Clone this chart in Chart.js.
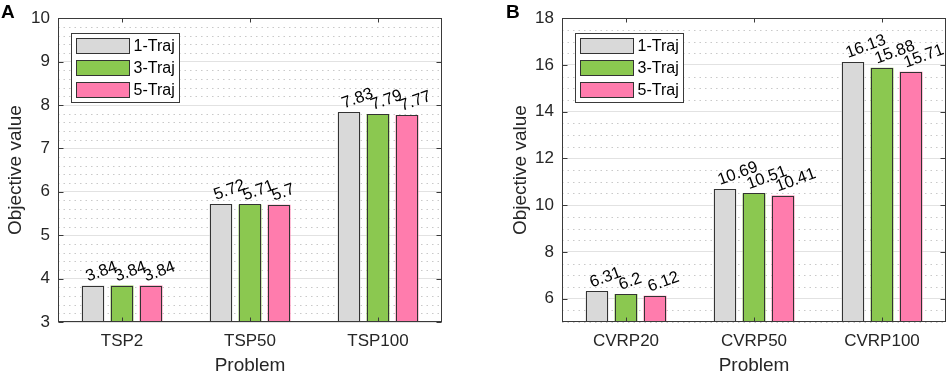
<!DOCTYPE html>
<html><head><meta charset="utf-8">
<script src="https://cdn.jsdelivr.net/npm/chart.js@4/dist/chart.umd.min.js"></script>
<style>
html,body{margin:0;padding:0;background:#fff;}
#wrap{position:relative;width:948px;height:373px;overflow:hidden;}
.pane{position:absolute;top:0;width:474px;height:373px;}
.letter{position:absolute;font:bold 19px 'Liberation Sans',Arial,sans-serif;color:#000;line-height:20px;}
</style></head><body>
<div id="wrap">
<div class="pane" style="left:0"><canvas id="cA"></canvas></div>
<div class="pane" style="left:474px"><canvas id="cB"></canvas></div>
<div class="letter" style="left:1px;top:2px">A</div>
<div class="letter" style="left:506px;top:2px">B</div>
</div>
<script>
const seriesNames = ['1-Traj', '3-Traj', '5-Traj'];
const seriesColors = ['#d9d9d9', '#8bc850', '#ff7cad'];

const tspCategories = ['TSP2', 'TSP50', 'TSP100'];
const tsp1Traj = [3.84, 5.72, 7.83];
const tsp3Traj = [3.84, 5.71, 7.79];
const tsp5Traj = [3.84, 5.70, 7.77];
const tspYTicks = [3, 4, 5, 6, 7, 8, 9, 10];

const cvrpCategories = ['CVRP20', 'CVRP50', 'CVRP100'];
const cvrp1Traj = [6.31, 10.69, 16.13];
const cvrp3Traj = [6.20, 10.51, 15.88];
const cvrp5Traj = [6.12, 10.41, 15.71];
const cvrpYTicks = [6, 8, 10, 12, 14, 16, 18];

const FONT = "'Liberation Sans', Arial, Helvetica, sans-serif";
const AXIS = '#3a3a3a';

const framePlugin = {
  id: 'frame',
  beforeDatasetsDraw(chart, args, o) {
    const {ctx, chartArea: a, scales: {y}} = chart;
    ctx.save();
    ctx.strokeStyle = '#c9c9c9';
    ctx.lineWidth = 1;
    ctx.setLineDash([1.5, 4]);
    const n = Math.round((o.ymax - o.ymin) / o.minor);
    for (let i = 0; i <= n; i++) {
      const v = o.ymin + i * o.minor;
      if (o.yticks.some(t => Math.abs(t - v) < 1e-6)) continue;
      const py = Math.round(y.getPixelForValue(v)) + 0.5;
      ctx.beginPath(); ctx.moveTo(a.left, py); ctx.lineTo(a.right, py); ctx.stroke();
    }
    ctx.restore();
  },
  afterDatasetsDraw(chart, args, o) {
    const {ctx, chartArea: a, scales: {x, y}} = chart;
    ctx.save();
    // crisp bar outlines
    ctx.strokeStyle = '#333';
    ctx.lineWidth = 1;
    chart.data.datasets.forEach((ds, di) => {
      chart.getDatasetMeta(di).data.forEach(el => {
        const l = Math.round(el.x - el.width / 2) + 0.5, r = Math.round(el.x + el.width / 2) - 0.5;
        const t = Math.round(el.y) + 0.5, b = Math.round(Math.min(el.base, a.bottom)) - 0.5;
        ctx.strokeRect(l, t, r - l, b - t);
      });
    });
    // data labels
    ctx.fillStyle = '#000';
    ctx.font = '16.5px ' + FONT;
    ctx.textAlign = 'left';
    ctx.textBaseline = 'alphabetic';
    chart.data.datasets.forEach((ds, di) => {
      const meta = chart.getDatasetMeta(di);
      meta.data.forEach((el, i) => {
        ctx.save();
        ctx.translate(el.x - 5, el.y - 4);
        ctx.rotate(-20 * Math.PI / 180);
        ctx.fillText(String(ds.data[i]), 0, 0);
        ctx.restore();
      });
    });
    // box
    ctx.strokeStyle = AXIS;
    ctx.lineWidth = 1;
    const L = Math.round(a.left) + 0.5, R = Math.round(a.right) - 0.5;
    const T = Math.round(a.top) + 0.5, B = Math.round(a.bottom) - 0.5;
    ctx.strokeRect(L, T, R - L, B - T);
    // ticks
    ctx.beginPath();
    o.yticks.forEach(v => {
      const py = Math.round(y.getPixelForValue(v)) + 0.5;
      ctx.moveTo(L, py); ctx.lineTo(L + 5, py);
      ctx.moveTo(R, py); ctx.lineTo(R - 5, py);
    });
    x.ticks.forEach((t, i) => {
      const px = Math.round(x.getPixelForTick(i)) + 0.5;
      ctx.moveTo(px, B); ctx.lineTo(px, B - 4);
      ctx.moveTo(px, T); ctx.lineTo(px, T + 4);
    });
    ctx.stroke();
    // legend
    ctx.font = '16px ' + FONT;
    const tw = Math.max(...chart.data.datasets.map(d => ctx.measureText(d.label).width));
    const bx = Math.round(a.left) + 13.5, by = Math.round(a.top) + 15.5;
    const bw = Math.round(5 + 53 + 4 + tw + 5), bh = 69;
    ctx.fillStyle = '#fff';
    ctx.fillRect(bx, by, bw, bh);
    ctx.strokeStyle = AXIS;
    ctx.strokeRect(bx, by, bw, bh);
    ctx.textBaseline = 'middle';
    chart.data.datasets.forEach((d, i) => {
      const sy = by + 5 + i * 22;
      ctx.fillStyle = d.backgroundColor;
      ctx.fillRect(bx + 5, sy, 53, 15);
      ctx.strokeStyle = '#333';
      ctx.strokeRect(bx + 5, sy, 53, 15);
      ctx.fillStyle = '#000';
      ctx.fillText(d.label, bx + 62, sy + 8.5);
    });
    ctx.restore();
  }
};

function makeChart(id, cats, series, yticks, ymin, ymax, minor, padLeft, padRight, yWidth) {
  const canvas = document.getElementById(id);
  canvas.width = 474; canvas.height = 373;
  canvas.style.width = '474px'; canvas.style.height = '373px';
  return new Chart(canvas, {
    type: 'bar',
    data: {
      labels: cats,
      datasets: series.map((s, i) => ({
        label: seriesNames[i],
        data: s,
        backgroundColor: seriesColors[i],
        borderWidth: 0,
        categoryPercentage: 0.68,
        barPercentage: 0.79
      }))
    },
    options: {
      responsive: false,
      devicePixelRatio: 1,
      animation: false,
      layout: {padding: {left: padLeft, right: padRight, top: 11, bottom: 0}},
      plugins: {
        legend: {display: false},
        tooltip: {enabled: false},
        frame: {yticks: yticks, ymin: ymin, ymax: ymax, minor: minor}
      },
      scales: {
        x: {
          grid: {display: false, drawTicks: false},
          border: {display: false},
          ticks: {color: '#262626', font: {family: FONT, size: 17}, padding: 9, maxRotation: 0},
          title: {display: true, text: 'Problem', color: '#262626', font: {family: FONT, size: 19}, padding: {top: 0, bottom: -4}},
          afterFit: s => { s.height = 51; }
        },
        y: {
          min: ymin, max: ymax,
          afterBuildTicks: s => { s.ticks = yticks.map(v => ({value: v})); },
          grid: {color: '#e2e2e2', lineWidth: 1, drawTicks: false},
          border: {display: false},
          ticks: {color: '#262626', font: {family: FONT, size: 17}, padding: 8},
          title: {display: true, text: 'Objective value', color: '#262626', font: {family: FONT, size: 19}, padding: {top: 4, bottom: 0}},
          afterFit: s => { s.width = yWidth; }
        }
      }
    },
    plugins: [framePlugin]
  });
}

makeChart('cA', tspCategories, [tsp1Traj, tsp3Traj, tsp5Traj], tspYTicks, 3, 10, 0.2, 0, 32, 58);
makeChart('cB', cvrpCategories, [cvrp1Traj, cvrp3Traj, cvrp5Traj], cvrpYTicks, 5, 18, 0.5, 31, 2, 57);
</script>
</body></html>
